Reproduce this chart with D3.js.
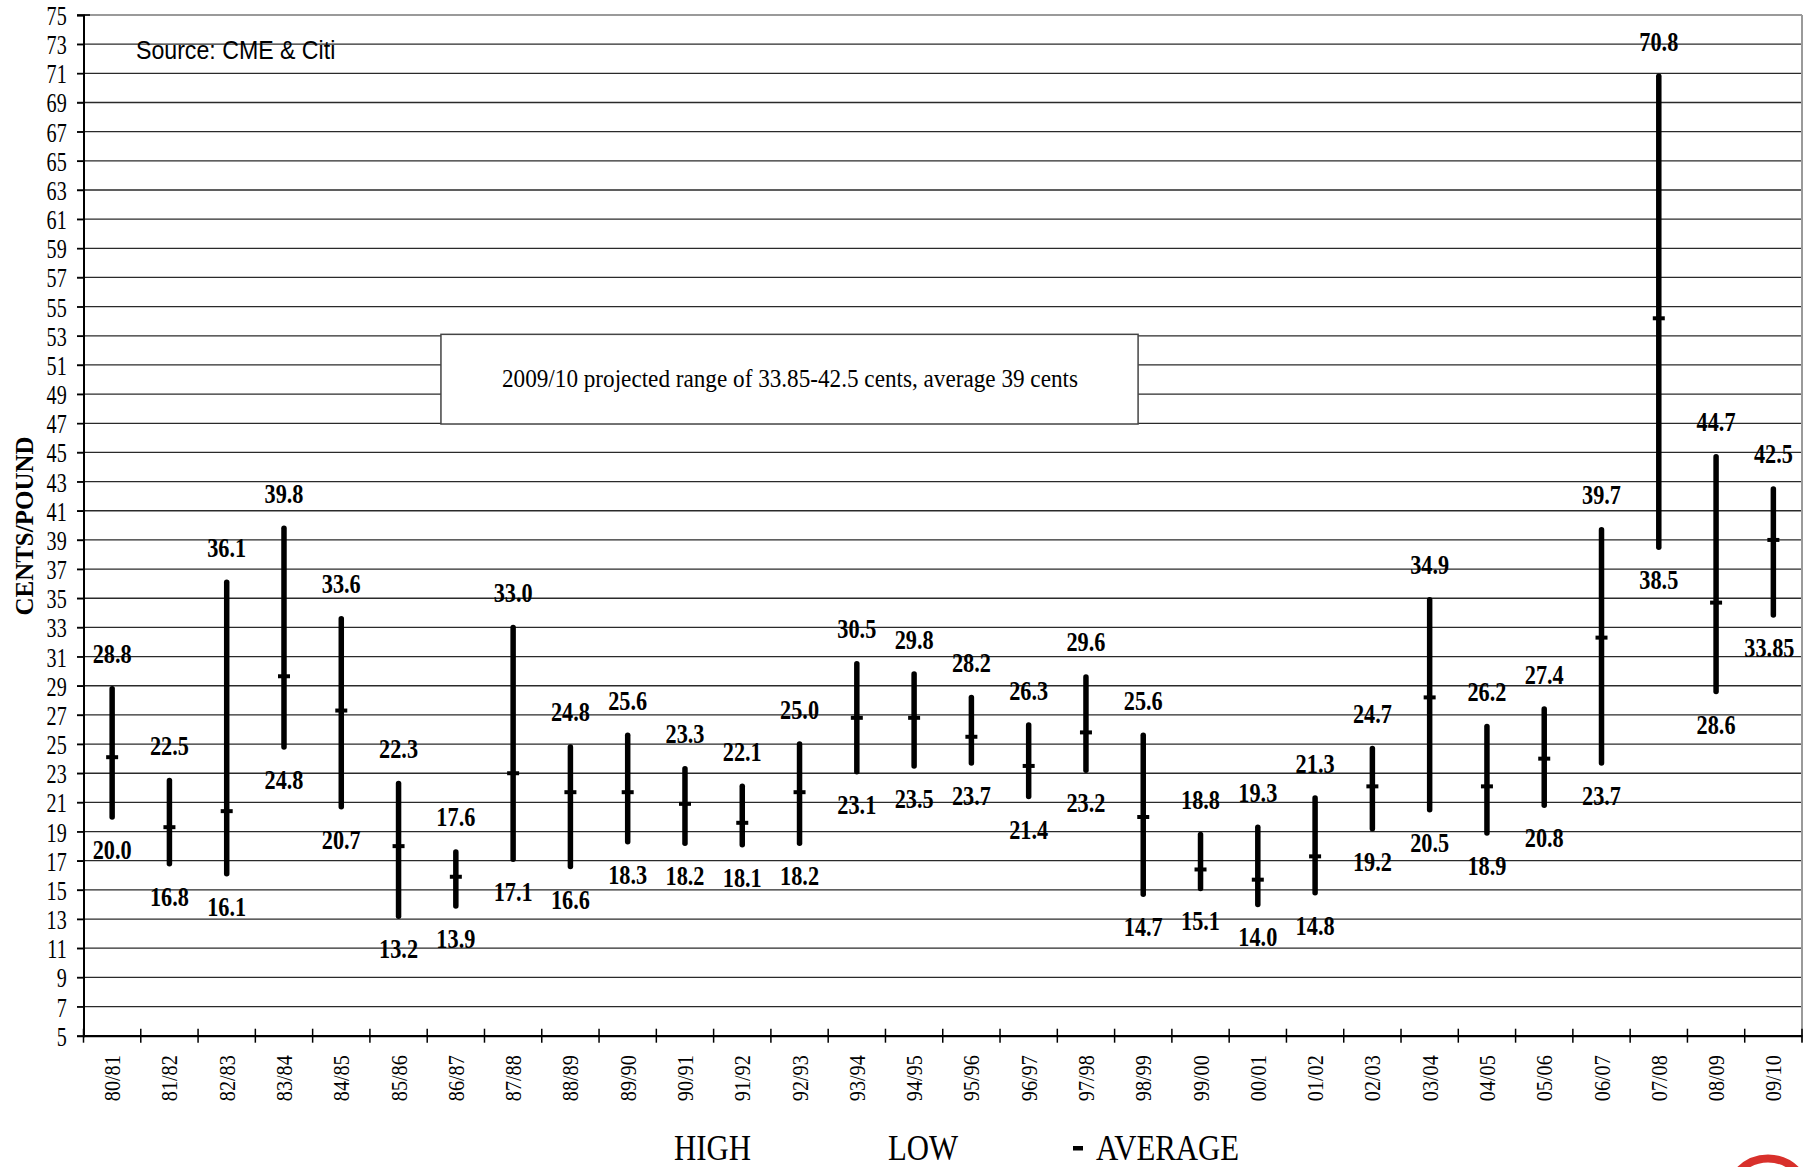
<!DOCTYPE html>
<html><head><meta charset="utf-8">
<script src="https://cdn.jsdelivr.net/npm/d3@7"></script>
<style>html,body{margin:0;padding:0;background:#fff;}svg{display:block;}</style>
</head><body>
<script>
const categories = ["80/81","81/82","82/83","83/84","84/85","85/86","86/87","87/88","88/89","89/90","90/91","91/92","92/93","93/94","94/95","95/96","96/97","97/98","98/99","99/00","00/01","01/02","02/03","03/04","04/05","05/06","06/07","07/08","08/09","09/10"];
const highs = [28.8,22.5,36.1,39.8,33.6,22.3,17.6,33.0,24.8,25.6,23.3,22.1,25.0,30.5,29.8,28.2,26.3,29.6,25.6,18.8,19.3,21.3,24.7,34.9,26.2,27.4,39.7,70.8,44.7,42.5];
const lows = [20.0,16.8,16.1,24.8,20.7,13.2,13.9,17.1,16.6,18.3,18.2,18.1,18.2,23.1,23.5,23.7,21.4,23.2,14.7,15.1,14.0,14.8,19.2,20.5,18.9,20.8,23.7,38.5,28.6,33.85];
const averages = [24.1,19.3,20.4,29.65,27.3,18.0,15.9,23.0,21.7,21.7,20.9,19.6,21.7,26.8,26.8,25.5,23.5,25.8,20.0,16.4,15.7,17.3,22.1,28.2,22.1,24.0,32.3,54.2,34.7,39.0];
const yTicks = d3.range(5, 76, 2);
const yTitle = "CENTS/POUND";
const sourceText = "Source: CME & Citi";
const noteText = "2009/10 projected range of 33.85-42.5 cents, average 39 cents";
const legendItems = ["HIGH", "LOW", "AVERAGE"];

const W = 1806, H = 1167;
const L = 83.5, R = 1802, T = 15, B = 1035.7;
const svg = d3.select("body").append("svg").attr("width", W).attr("height", H);
const x = d3.scaleBand().domain(categories).range([L, R]).padding(0);
const y = d3.scaleLinear().domain([5, 75]).range([B, T]);
const cx = c => x(c) + x.bandwidth() / 2;
const fmt = v => (Math.abs(v * 10 - Math.round(v * 10)) < 1e-9 ? v.toFixed(1) : String(v));
const serif = "'Liberation Serif','Times New Roman',serif";

function txt(px, py, s, o) {
  return svg.append("text")
    .attr("transform", `translate(${px},${py}) ${o.rot ? "rotate(" + o.rot + ")" : ""} scale(${o.sx || 1},1)`)
    .attr("text-anchor", o.anchor || "start")
    .attr("font-family", o.family || serif)
    .attr("font-size", o.size)
    .attr("font-weight", o.weight || "normal")
    .attr("fill", o.fill || "#000")
    .text(s);
}

// gridlines
svg.append("g").selectAll("line").data(yTicks.filter(t => t > 5 && t < 75)).join("line")
  .attr("x1", L - 6.5).attr("x2", R).attr("y1", d => y(d)).attr("y2", d => y(d))
  .attr("stroke", "#2a2a2a").attr("stroke-width", 1.3);
// top & right border
svg.append("line").attr("x1", L).attr("x2", R).attr("y1", y(75)).attr("y2", y(75)).attr("stroke", "#9a9a9a").attr("stroke-width", 2);
svg.append("line").attr("x1", L - 6.5).attr("x2", L + 6.5).attr("y1", y(75)).attr("y2", y(75)).attr("stroke", "#000").attr("stroke-width", 1.5);
svg.append("line").attr("x1", R).attr("x2", R).attr("y1", y(75)).attr("y2", B + 6).attr("stroke", "#9a9a9a").attr("stroke-width", 2);

// y axis
const yAxis = svg.append("g").attr("transform", `translate(${L},0)`)
  .call(d3.axisLeft(y).tickValues(yTicks).tickSize(6.5).tickPadding(0).tickFormat(d3.format("d")));
yAxis.select(".domain").attr("stroke", "#000").attr("stroke-width", 2);
yAxis.selectAll(".tick line").attr("stroke", "#000").attr("stroke-width", 1.5);
yAxis.selectAll(".tick text").attr("x", null).attr("dy", null).attr("y", 9.5)
  .attr("transform", "translate(-16.8,0) scale(0.76,1)")
  .attr("font-family", serif).attr("font-size", 26.5).attr("fill", "#000").attr("text-anchor", "end");

// x axis
const xAxis = svg.append("g").attr("transform", `translate(0,${B})`)
  .call(d3.axisBottom(x).tickSize(0).tickPadding(0));
xAxis.select(".domain").attr("stroke", "#000").attr("stroke-width", 2.2);
xAxis.selectAll(".tick text").attr("y", null).attr("dy", null)
  .attr("transform", "translate(8,19.5) rotate(-90) scale(0.86,1)")
  .attr("text-anchor", "end").attr("font-family", serif).attr("font-size", 23.5).attr("fill", "#000");
// boundary cross ticks
svg.append("g").selectAll("line").data(d3.range(categories.length + 1)).join("line")
  .attr("x1", i => L + i * x.step()).attr("x2", i => L + i * x.step())
  .attr("y1", B - 7).attr("y2", B + 7).attr("stroke", "#000").attr("stroke-width", 1.5);

// bars
const g = svg.append("g");
g.selectAll("line.bar").data(categories).join("line").attr("class", "bar")
  .attr("x1", d => cx(d)).attr("x2", d => cx(d))
  .attr("y1", (d, i) => y(highs[i])).attr("y2", (d, i) => y(lows[i]))
  .attr("stroke", "#000").attr("stroke-width", 5.5).attr("stroke-linecap", "round");
g.selectAll("line.avg").data(categories).join("line").attr("class", "avg")
  .attr("x1", d => cx(d) - 6).attr("x2", d => cx(d) + 6)
  .attr("y1", (d, i) => y(averages[i])).attr("y2", (d, i) => y(averages[i]))
  .attr("stroke", "#000").attr("stroke-width", 4);

// labels
categories.forEach((c, i) => {
  txt(cx(c), y(highs[i]) - 25.5, fmt(highs[i]), {size: 26.5, weight: "bold", anchor: "middle", sx: 0.84});
  txt(cx(c) - (lows[i] === 33.85 ? 4 : 0), y(lows[i]) + 42, fmt(lows[i]), {size: 26.5, weight: "bold", anchor: "middle", sx: 0.84});
});

// source
txt(136, 59, sourceText, {family: "'Liberation Sans',Arial,sans-serif", size: 26, sx: 0.89});

// note box
const bx0 = L + 6.24 * x.step(), bx1 = L + 18.41 * x.step();
svg.append("rect").attr("x", bx0).attr("y", y(53.1)).attr("width", bx1 - bx0).attr("height", y(46.95) - y(53.1))
  .attr("fill", "#fff").attr("stroke", "#444").attr("stroke-width", 1.5);
svg.append("text").attr("x", 502).attr("y", 387).attr("font-family", serif).attr("font-size", 26)
  .attr("textLength", 576).attr("lengthAdjust", "spacingAndGlyphs").text(noteText);

// y title
txt(33, 526, yTitle, {rot: -90, size: 25, weight: "bold", anchor: "middle", sx: 1.0});

// legend
txt(674, 1160, legendItems[0], {size: 35, sx: 0.88});
txt(888, 1160, legendItems[1], {size: 35, sx: 0.88});
svg.append("rect").attr("x", 1073).attr("y", 1146).attr("width", 10).attr("height", 4.5).attr("fill", "#000");
txt(1096, 1160, legendItems[2], {size: 35, sx: 0.88});

// partial logo ring
svg.append("circle").attr("cx", 1768).attr("cy", 1198.5).attr("r", 40).attr("fill", "none")
  .attr("stroke", "#d8302b").attr("stroke-width", 8);
</script>
</body></html>
